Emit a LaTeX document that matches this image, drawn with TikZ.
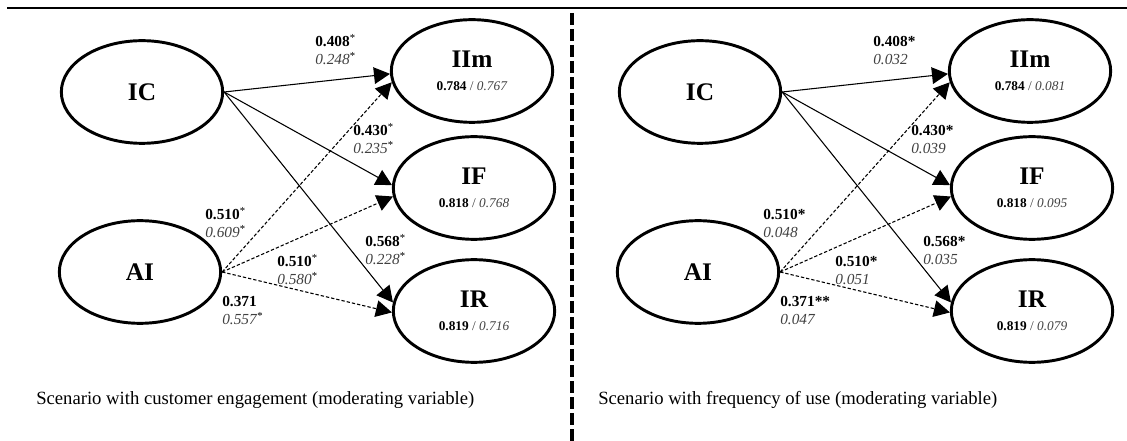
\documentclass[tikz,border=0pt]{standalone}
\usepackage{fontspec}
\setmainfont{Liberation Serif}
\usetikzlibrary{arrows.meta,shapes.geometric}
\definecolor{txtgray}{HTML}{404040}
\newcommand{\valfont}{\fontsize{10}{11}\selectfont\mdseries}

\begin{document}
\begin{tikzpicture}[
    x=0.75pt, y=-0.75pt,
    >=Triangle,
    latent/.style={draw, ellipse, line width=2.2pt, minimum width=121pt, minimum height=77pt, inner sep=1pt, align=center, font=\fontsize{19}{17}\selectfont\bfseries},
    arrow/.style={-{Triangle[length=12pt,width=12.5pt]}, line width=0.8pt},
    dasharrow/.style={arrow, dash pattern=on 2.5pt off 1.5pt},
    coef/.style={anchor=base west, align=left, inner sep=0pt, font=\fontsize{11.5}{13.5}\selectfont},
    scen/.style={anchor=base west, inner sep=0pt, font=\fontsize{14}{16}\selectfont}
]
\useasboundingbox (0,0) rectangle (1127,441);

% frame
\draw[line width=2.2pt] (7,8) -- (1127,8);
\draw[line width=3pt, dash pattern=on 9pt off 3pt] (572,13) -- (572,441);

% customer engagement
\node[latent] (IC) at (142,92) {IC};
\node[latent] (AI) at (140,272) {AI};
\node[latent] (IIm) at (472,71) {IIm\\{\valfont\textbf{0.784} \textcolor{txtgray}{/ \textit{0.767}}}};
\node[latent] (IF) at (474,188) {IF\\{\valfont\textbf{0.818} \textcolor{txtgray}{/ \textit{0.768}}}};
\node[latent] (IR) at (474,311) {IR\\{\valfont\textbf{0.819} \textcolor{txtgray}{/ \textit{0.716}}}};

\draw[arrow] (IC.east) -- (IIm.182);
\draw[arrow] (IC.east) -- (IF.178);
\draw[arrow] (IC.east) -- (IR.174);
\draw[dasharrow] (AI.east) -- (IIm.188);
\draw[dasharrow] (AI.east) -- (IF.186);
\draw[dasharrow] (AI.east) -- (IR.181);

% base = second line
\node[coef] (c1) at (315,65) {\textbf{0.408}\textsuperscript{*}\\\textcolor{txtgray}{\textit{0.248}}\textsuperscript{*}};
\node[coef] (c2) at (353,154) {\textbf{0.430}\textsuperscript{*}\\\textcolor{txtgray}{\textit{0.235}}\textsuperscript{*}};
\node[coef] (c3) at (205,238) {\textbf{0.510}\textsuperscript{*}\\\textcolor{txtgray}{\textit{0.609}}\textsuperscript{*}};
\node[coef] (c4) at (277,285) {\textbf{0.510}\textsuperscript{*}\\\textcolor{txtgray}{\textit{0.580}}\textsuperscript{*}};
\node[coef] (c5) at (365,265) {\textbf{0.568}\textsuperscript{*}\\\textcolor{txtgray}{\textit{0.228}}\textsuperscript{*}};
\node[coef] (c6) at (222,325) {\textbf{0.371}\\\textcolor{txtgray}{\textit{0.557}}\textsuperscript{*}};

\node[scen] (s1) at (36,404) {Scenario with customer engagement (moderating variable)};

% frequency of use
\begin{scope}[xshift=418.5pt]
\node[latent] (ICb) at (142,92) {IC};
\node[latent] (AIb) at (140,272) {AI};
\node[latent] (IImb) at (472,71) {IIm\\{\valfont\textbf{0.784} \textcolor{txtgray}{/ \textit{0.081}}}};
\node[latent] (IFb) at (474,188) {IF\\{\valfont\textbf{0.818} \textcolor{txtgray}{/ \textit{0.095}}}};
\node[latent] (IRb) at (474,311) {IR\\{\valfont\textbf{0.819} \textcolor{txtgray}{/ \textit{0.079}}}};

\draw[arrow] (ICb.east) -- (IImb.182);
\draw[arrow] (ICb.east) -- (IFb.178);
\draw[arrow] (ICb.east) -- (IRb.174);
\draw[dasharrow] (AIb.east) -- (IImb.188);
\draw[dasharrow] (AIb.east) -- (IFb.186);
\draw[dasharrow] (AIb.east) -- (IRb.181);

\node[coef] (d1) at (315,65) {\textbf{0.408*}\\\textcolor{txtgray}{\textit{0.032}}};
\node[coef] (d2) at (353,154) {\textbf{0.430*}\\\textcolor{txtgray}{\textit{0.039}}};
\node[coef] (d3) at (205,238) {\textbf{0.510*}\\\textcolor{txtgray}{\textit{0.048}}};
\node[coef] (d4) at (277,285) {\textbf{0.510*}\\\textcolor{txtgray}{\textit{0.051}}};
\node[coef] (d5) at (365,265) {\textbf{0.568*}\\\textcolor{txtgray}{\textit{0.035}}};
\node[coef] (d6) at (222,325) {\textbf{0.371**}\\\textcolor{txtgray}{\textit{0.047}}};

\node[scen] (s2) at (40,404) {Scenario with frequency of use (moderating variable)};
\end{scope}
\end{tikzpicture}
\end{document}
